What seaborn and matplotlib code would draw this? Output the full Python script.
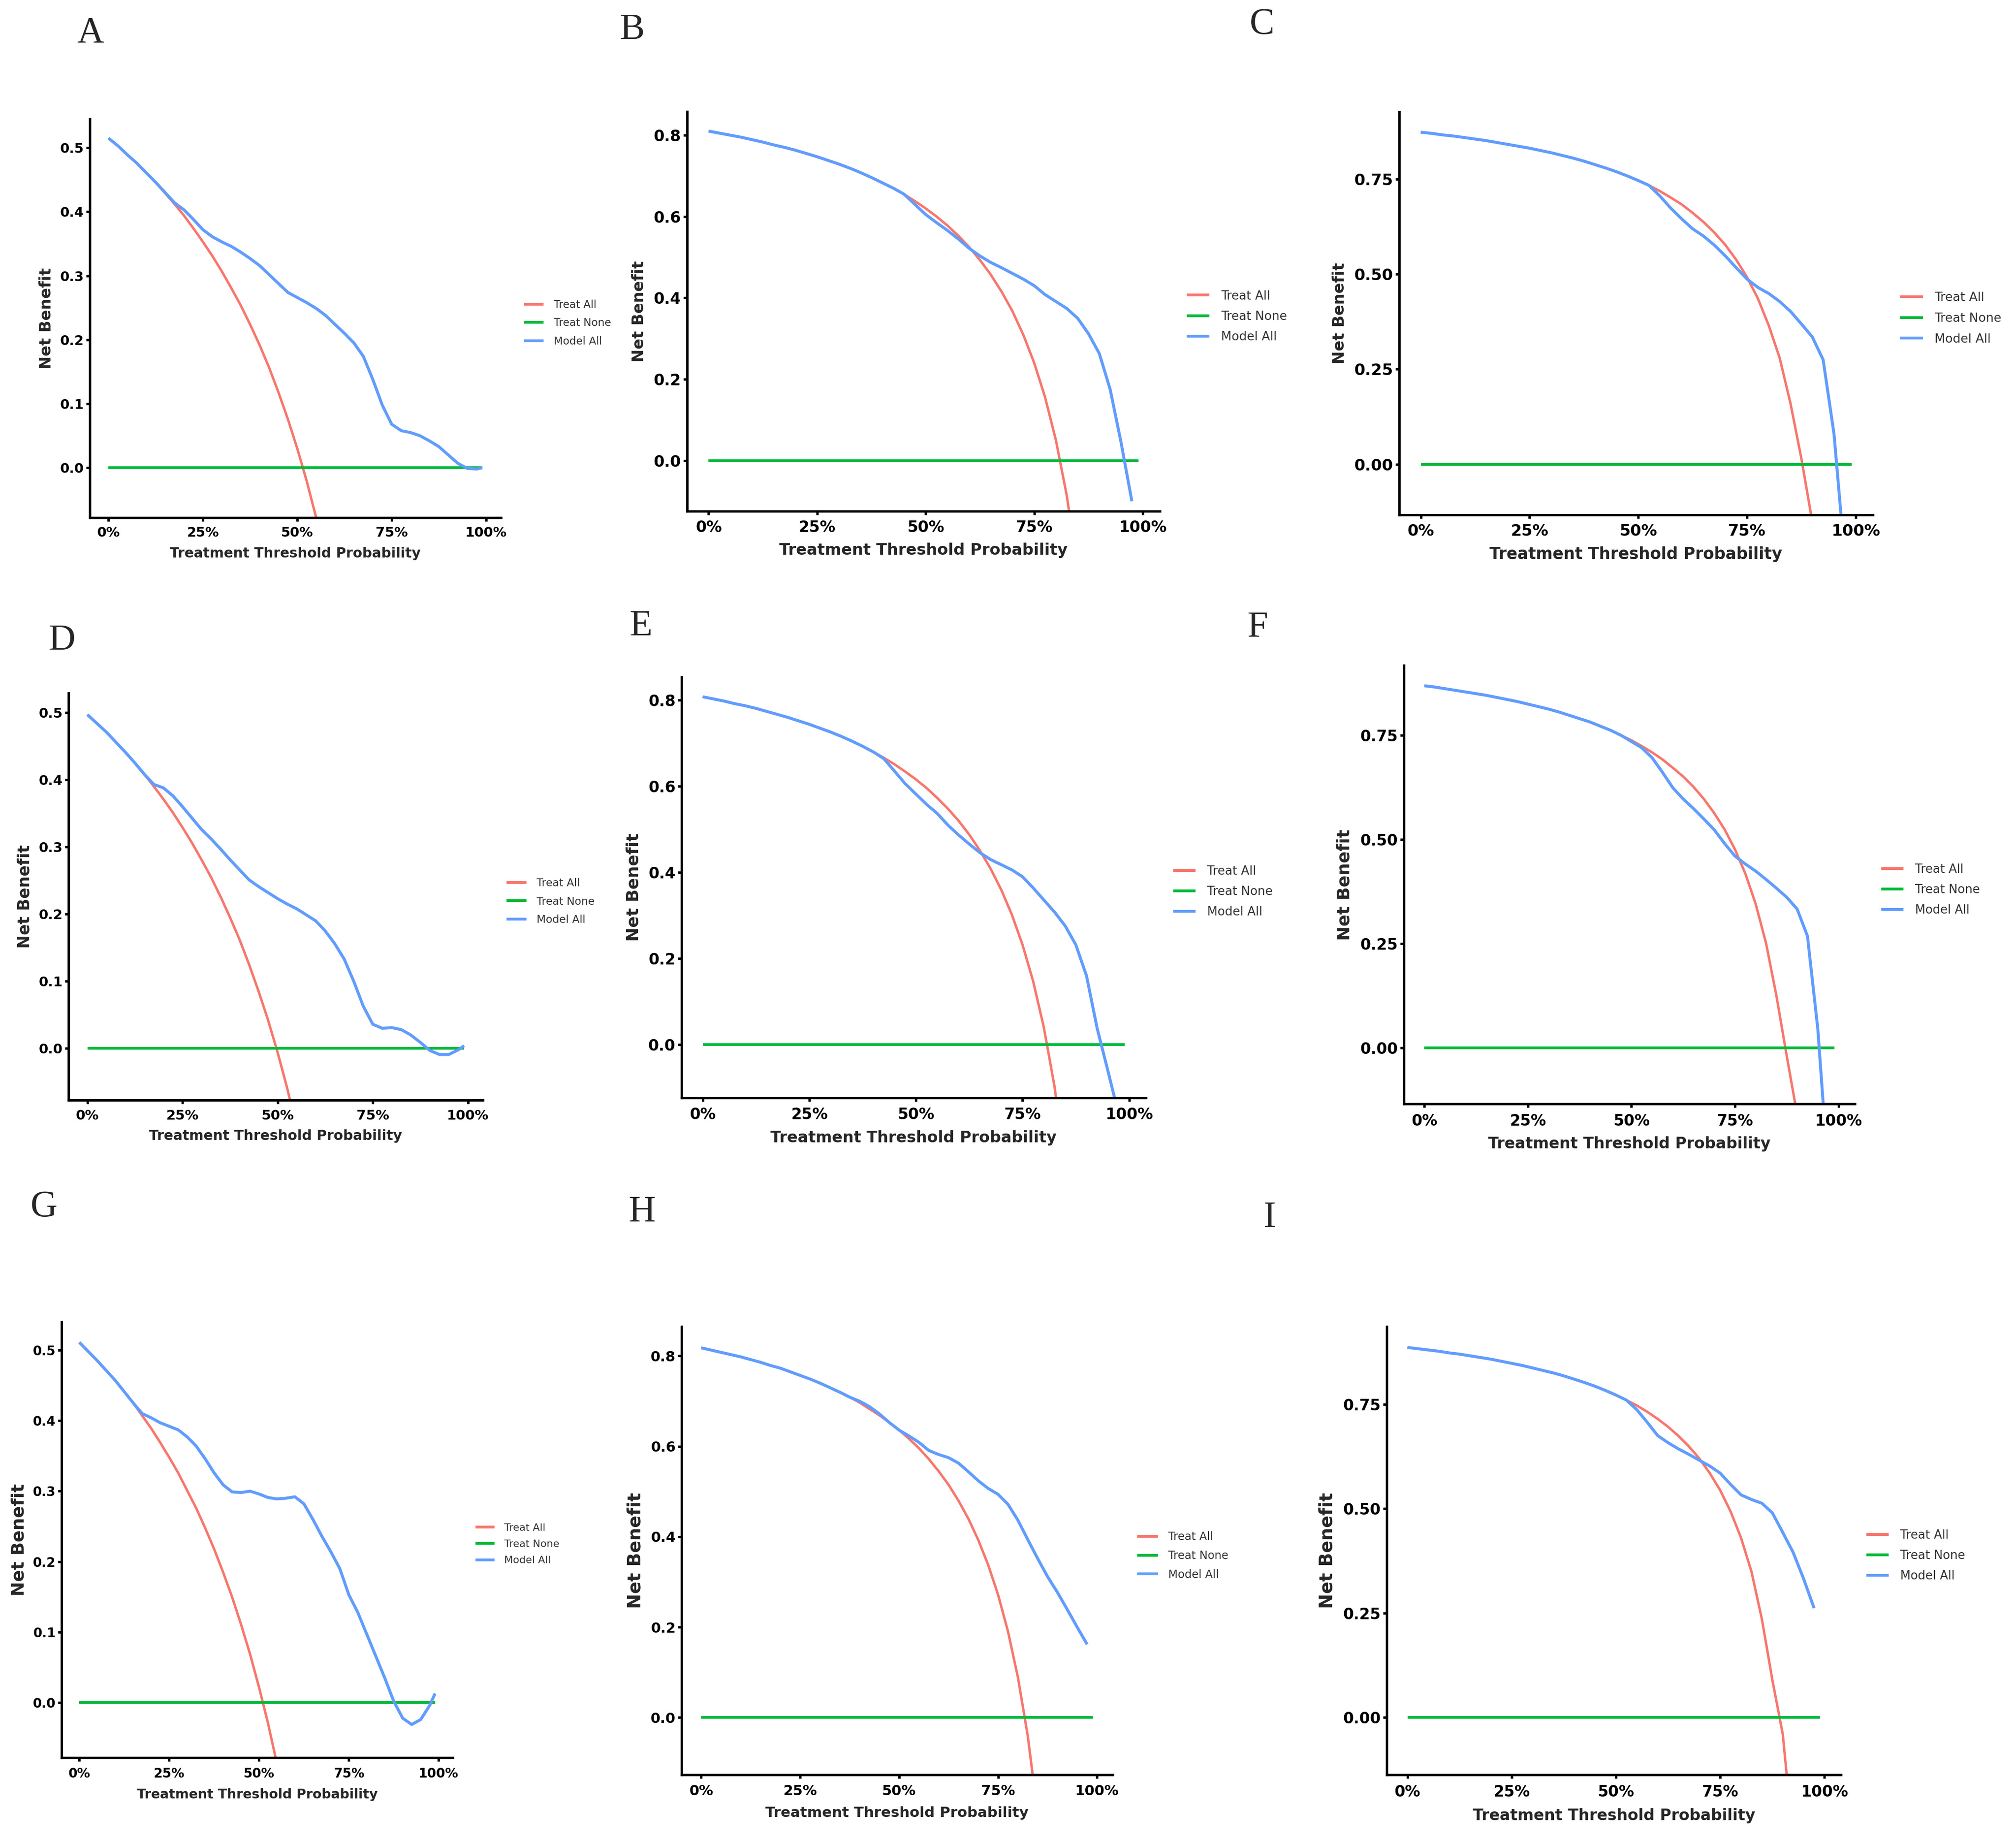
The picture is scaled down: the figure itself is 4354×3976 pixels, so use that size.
import numpy as np
import matplotlib
matplotlib.use("Agg")
import matplotlib.pyplot as plt
from matplotlib.lines import Line2D
import seaborn as sns

nan = np.nan

# threshold grid the values were read on
thr = [0.0, 0.025, 0.05, 0.075, 0.1, 0.125, 0.15, 0.175, 0.2, 0.225, 0.25, 0.275,
       0.3, 0.325, 0.35, 0.375, 0.4, 0.425, 0.45, 0.475, 0.5, 0.525, 0.55, 0.575,
       0.6, 0.625, 0.65, 0.675, 0.7, 0.725, 0.75, 0.775, 0.8, 0.825, 0.85, 0.875,
       0.9, 0.925, 0.95, 0.975, 0.99]

# net benefit values (nan = not drawn)
a_all = [0.515, 0.503, 0.489, 0.476, 0.461, 0.446, 0.429, 0.412, 0.394, 0.374, 0.353, 0.331,
         0.307, 0.281, 0.254, 0.224, 0.192, 0.157, 0.118, 0.076, 0.030, -0.021, -0.078, -0.141,
         nan, nan, nan, nan, nan, nan, nan, nan, nan, nan, nan, nan, nan, nan, nan, nan, nan]
a_model = [0.515, 0.503, 0.489, 0.476, 0.461, 0.446, 0.430, 0.414, 0.403, 0.388, 0.372, 0.361,
           0.353, 0.346, 0.337, 0.327, 0.316, 0.302, 0.288, 0.274, 0.266, 0.258, 0.249, 0.238,
           0.224, 0.210, 0.195, 0.174, 0.138, 0.098, 0.068, 0.058, 0.055, 0.050, 0.042, 0.033,
           0.020, 0.007, -0.001, -0.002, 0.000]

b_all = [0.810, 0.805, 0.800, 0.795, 0.789, 0.783, 0.776, 0.770, 0.763, 0.755, 0.747, 0.738,
         0.729, 0.719, 0.708, 0.696, 0.683, 0.670, 0.655, 0.638, 0.620, 0.600, 0.578, 0.553,
         0.525, 0.493, 0.457, 0.415, 0.367, 0.309, 0.240, 0.156, 0.050, -0.086, -0.267,
         nan, nan, nan, nan, nan, nan]
b_model = [0.810, 0.805, 0.800, 0.795, 0.789, 0.783, 0.776, 0.770, 0.763, 0.755, 0.747, 0.738,
           0.729, 0.719, 0.708, 0.696, 0.683, 0.670, 0.655, 0.630, 0.605, 0.585, 0.566, 0.545,
           0.522, 0.503, 0.487, 0.474, 0.460, 0.446, 0.430, 0.408, 0.391, 0.374, 0.350, 0.312,
           0.263, 0.175, 0.045, -0.100, nan]

c_all = [0.873, 0.870, 0.866, 0.863, 0.859, 0.855, 0.851, 0.846, 0.841, 0.836, 0.831, 0.825,
         0.819, 0.812, 0.805, 0.797, 0.788, 0.779, 0.769, 0.758, 0.746, 0.733, 0.718, 0.701,
         0.683, 0.661, 0.637, 0.609, 0.577, 0.538, 0.492, 0.436, 0.365, 0.280, 0.160, 0.015,
         -0.150, nan, nan, nan, nan]
c_model = [0.873, 0.870, 0.866, 0.863, 0.859, 0.855, 0.851, 0.846, 0.841, 0.836, 0.831, 0.825,
           0.819, 0.812, 0.805, 0.797, 0.788, 0.779, 0.769, 0.758, 0.746, 0.733, 0.705, 0.673,
           0.645, 0.619, 0.600, 0.576, 0.548, 0.517, 0.487, 0.465, 0.449, 0.428, 0.402, 0.369,
           0.335, 0.275, 0.080, -0.250, nan]

d_all = [0.497, 0.484, 0.471, 0.456, 0.441, 0.425, 0.408, 0.390, 0.371, 0.351, 0.329, 0.306,
         0.281, 0.255, 0.226, 0.195, 0.162, 0.125, 0.085, 0.042, -0.006, -0.059, -0.118,
         nan, nan, nan, nan, nan, nan, nan, nan, nan, nan, nan, nan, nan, nan, nan, nan, nan, nan]
d_model = [0.497, 0.484, 0.471, 0.456, 0.441, 0.425, 0.408, 0.393, 0.388, 0.376, 0.360, 0.343,
           0.326, 0.312, 0.297, 0.281, 0.266, 0.251, 0.241, 0.232, 0.223, 0.215, 0.208, 0.199,
           0.190, 0.175, 0.156, 0.133, 0.100, 0.063, 0.036, 0.030, 0.031, 0.028, 0.020, 0.009,
           -0.003, -0.009, -0.009, -0.002, 0.004]

e_all = [0.808, 0.803, 0.798, 0.792, 0.787, 0.781, 0.774, 0.767, 0.760, 0.752, 0.744, 0.735,
         0.726, 0.716, 0.705, 0.693, 0.680, 0.666, 0.651, 0.634, 0.616, 0.596, 0.573, 0.548,
         0.520, 0.488, 0.451, 0.409, 0.360, 0.302, 0.232, 0.147, 0.040, -0.097, -0.280,
         nan, nan, nan, nan, nan, nan]
e_model = [0.808, 0.803, 0.798, 0.792, 0.787, 0.781, 0.774, 0.767, 0.760, 0.752, 0.744, 0.735,
           0.726, 0.716, 0.705, 0.693, 0.680, 0.664, 0.635, 0.606, 0.582, 0.558, 0.537, 0.510,
           0.487, 0.466, 0.446, 0.430, 0.418, 0.406, 0.390, 0.364, 0.336, 0.308, 0.276, 0.232,
           0.160, 0.038, -0.060, -0.160, nan]

f_all = [0.869, 0.866, 0.862, 0.858, 0.854, 0.850, 0.846, 0.841, 0.836, 0.831, 0.825, 0.819,
         0.813, 0.806, 0.798, 0.790, 0.782, 0.772, 0.762, 0.750, 0.738, 0.724, 0.709, 0.692,
         0.672, 0.651, 0.626, 0.597, 0.563, 0.524, 0.476, 0.418, 0.345, 0.251, 0.125, -0.020,
         -0.160, nan, nan, nan, nan]
f_model = [0.869, 0.866, 0.862, 0.858, 0.854, 0.850, 0.846, 0.841, 0.836, 0.831, 0.825, 0.819,
           0.813, 0.806, 0.798, 0.790, 0.782, 0.772, 0.762, 0.750, 0.735, 0.720, 0.696, 0.661,
           0.624, 0.597, 0.574, 0.549, 0.523, 0.490, 0.460, 0.441, 0.424, 0.404, 0.383, 0.361,
           0.333, 0.268, 0.045, -0.300, nan]

g_all = [0.511, 0.498, 0.485, 0.471, 0.457, 0.441, 0.425, 0.407, 0.389, 0.369, 0.348, 0.326,
         0.301, 0.276, 0.248, 0.218, 0.185, 0.150, 0.111, 0.069, 0.022, -0.029, -0.087,
         nan, nan, nan, nan, nan, nan, nan, nan, nan, nan, nan, nan, nan, nan, nan, nan, nan, nan]
g_model = [0.511, 0.498, 0.485, 0.471, 0.457, 0.441, 0.425, 0.410, 0.404, 0.397, 0.392, 0.387,
           0.377, 0.364, 0.346, 0.326, 0.309, 0.299, 0.298, 0.300, 0.296, 0.291, 0.289, 0.290,
           0.292, 0.282, 0.260, 0.236, 0.214, 0.190, 0.153, 0.128, 0.097, 0.066, 0.035, 0.002,
           -0.022, -0.031, -0.024, -0.004, 0.013]

h_all = [0.818, 0.813, 0.808, 0.803, 0.798, 0.792, 0.786, 0.779, 0.773, 0.765, 0.757, 0.749,
         0.740, 0.730, 0.720, 0.709, 0.697, 0.683, 0.669, 0.653, 0.636, 0.617, 0.596, 0.572,
         0.545, 0.515, 0.480, 0.440, 0.393, 0.338, 0.272, 0.191, 0.090, -0.040, -0.213,
         nan, nan, nan, nan, nan, nan]
h_model = [0.818, 0.813, 0.808, 0.803, 0.798, 0.792, 0.786, 0.779, 0.773, 0.765, 0.757, 0.749,
           0.740, 0.730, 0.720, 0.709, 0.700, 0.688, 0.672, 0.653, 0.636, 0.623, 0.609, 0.591,
           0.582, 0.575, 0.563, 0.544, 0.524, 0.507, 0.494, 0.472, 0.437, 0.394, 0.352, 0.312,
           0.277, 0.239, 0.200, 0.162, nan]

i_all = [0.886, 0.883, 0.880, 0.877, 0.873, 0.870, 0.866, 0.862, 0.858, 0.853, 0.848, 0.843,
         0.837, 0.831, 0.825, 0.818, 0.810, 0.802, 0.793, 0.783, 0.772, 0.760, 0.747, 0.732,
         0.715, 0.696, 0.674, 0.649, 0.620, 0.585, 0.544, 0.493, 0.430, 0.349, 0.235, 0.090,
         -0.040, -0.300, nan, nan, nan]
i_model = [0.886, 0.883, 0.880, 0.877, 0.873, 0.870, 0.866, 0.862, 0.858, 0.853, 0.848, 0.843,
           0.837, 0.831, 0.825, 0.818, 0.810, 0.802, 0.793, 0.783, 0.772, 0.760, 0.737, 0.707,
           0.675, 0.658, 0.643, 0.630, 0.616, 0.602, 0.585, 0.558, 0.533, 0.522, 0.513, 0.490,
           0.443, 0.395, 0.332, 0.262, nan]

none_nb = [0.0] * len(thr)

series_names = ["Treat All", "Treat None", "Model All"]
x_tick_pos = [0.0, 0.25, 0.5, 0.75, 1.0]
x_tick_lab = ["0%", "25%", "50%", "75%", "100%"]
yt_low = [0.0, 0.1, 0.2, 0.3, 0.4, 0.5]
yl_low = ["0.0", "0.1", "0.2", "0.3", "0.4", "0.5"]
yt_mid = [0.0, 0.2, 0.4, 0.6, 0.8]
yl_mid = ["0.0", "0.2", "0.4", "0.6", "0.8"]
yt_high = [0.0, 0.25, 0.5, 0.75]
yl_high = ["0.00", "0.25", "0.50", "0.75"]

colors = {"Treat All": "#F8766D", "Treat None": "#00BA38", "Model All": "#619CFF"}
widths = {"Treat All": 3.8, "Treat None": 4.2, "Model All": 4.6}

# panel layout in pixels: axes box (left, top, right, bottom), y range, letter and legend spot,
# horizontal / vertical text scale
panels = [
    ("A", a_all, a_model, (194, 257, 1082, 1118), (-0.078, 0.545), "low", (195, 73), (1132, 698), 1.00, 1.00),
    ("B", b_all, b_model, (1484, 241, 2505, 1104), (-0.1245, 0.858), "mid", (1365, 65), (2563, 684), 1.15, 1.00),
    ("C", c_all, c_model, (3022, 242, 4045, 1112), (-0.133, 0.926), "high", (2726, 53), (4103, 688), 1.17, 1.00),
    ("D", d_all, d_model, (148, 1497, 1043, 2376), (-0.077, 0.529), "low", (134, 1384), (1094, 1947), 1.01, 1.02),
    ("E", e_all, e_model, (1472, 1462, 2475, 2371), (-0.1235, 0.854), "mid", (1384, 1353), (2534, 1926), 1.14, 1.07),
    ("F", f_all, f_model, (3032, 1437, 4006, 2384), (-0.135, 0.918), "high", (2716, 1356), (4063, 1922), 1.13, 1.10),
    ("G", g_all, g_model, (133, 2855, 978, 3796), (-0.078, 0.54), "low", (95, 2608), (1027, 3335), 0.96, 1.11),
    ("H", h_all, h_model, (1472, 2865, 2403, 3833), (-0.1265, 0.865), "mid", (1387, 2618), (2456, 3360), 1.05, 1.145),
    ("I", i_all, i_model, (2995, 2865, 3976, 3833), (-0.137, 0.936), "high", (2742, 2631), (4031, 3360), 1.13, 1.145),
]
yticks = {"low": (yt_low, yl_low), "mid": (yt_mid, yl_mid), "high": (yt_high, yl_high)}

sns.set_style("ticks")
plt.rcParams["font.family"] = ["DejaVu Sans"]
plt.rcParams["lines.solid_capstyle"] = "butt"

W, H = 4354, 3976
fig = plt.figure(figsize=(W / 100, H / 100), dpi=100)

for letter, all_nb, model_nb, box, ylim, ykind, lpos, gpos, hs, vs in panels:
    l, t, r, b = box
    ax = fig.add_axes([l / W, 1 - b / H, (r - l) / W, (b - t) / H])

    for name, vals in zip(series_names, [all_nb, none_nb, model_nb]):
        sns.lineplot(x=thr, y=vals, ax=ax, color=colors[name], linewidth=widths[name],
                     estimator=None, sort=False)

    ax.set_xlim(-0.0495, 1.0395)
    ax.set_ylim(*ylim)
    sns.despine(ax=ax)
    for side in ["left", "bottom"]:
        ax.spines[side].set_linewidth(3.8)
        ax.spines[side].set_color("black")

    ax.set_xticks(x_tick_pos)
    ax.set_xticklabels(x_tick_lab, fontweight="bold", fontsize=21 * hs)
    yt, yl = yticks[ykind]
    ax.set_yticks(yt)
    ax.set_yticklabels(yl, fontweight="bold", fontsize=21 * hs)
    ax.tick_params(axis="x", length=6, width=3.8, pad=8 * vs, colors="black")
    ax.tick_params(axis="y", length=6, width=3.8, pad=3 * hs, colors="black")

    ax.set_xlabel("Treatment Threshold Probability", fontweight="bold",
                  fontsize=21.3 * hs, labelpad=11 * vs)
    ax.set_ylabel("Net Benefit", fontweight="bold", fontsize=24.5 * vs, labelpad=9 * hs)

    handles = [Line2D([], [], color=colors[n], linewidth=4.4) for n in series_names]
    ax.legend(handles, series_names, loc="center left",
              bbox_to_anchor=(gpos[0] / W, 1 - gpos[1] / H), bbox_transform=fig.transFigure,
              frameon=False, fontsize=16.5 * hs, handlelength=1.85, handletextpad=0.95,
              labelspacing=0.7, borderpad=0, borderaxespad=0, labelcolor="#333333")

    fig.text(lpos[0] / W, 1 - lpos[1] / H, letter, ha="center", va="center",
             family=["Liberation Serif", "DejaVu Serif"], fontsize=58)

fig.savefig("out.png", dpi=100, facecolor="white")
